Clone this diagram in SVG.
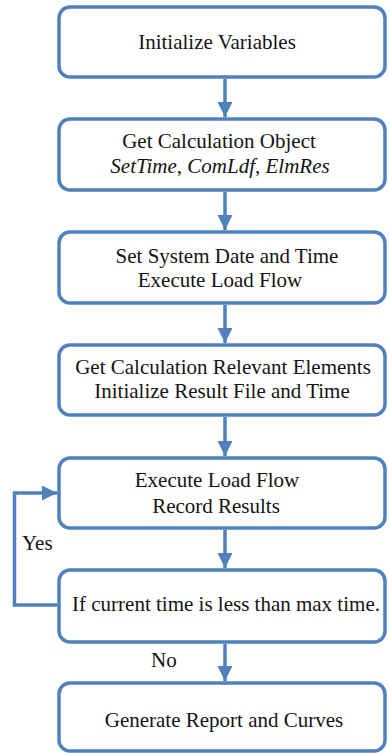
<svg xmlns="http://www.w3.org/2000/svg" width="389" height="754" viewBox="0 0 389 754">
<style>
.box{fill:#fff;stroke:#4f81bd;stroke-width:3.5}
.t{fill:#141414;text-anchor:middle}
.l{fill:#141414}
.c{fill:none;stroke:#4f81bd;stroke-width:3.5}
</style>
<defs>
<marker id="ah" markerUnits="userSpaceOnUse" markerWidth="16" markerHeight="16" refX="15" refY="7.5" orient="auto">
<path d="M0,0 L15,7.5 L0,15 z" fill="#4f81bd"/>
</marker>
</defs>
<g font-family="Liberation Serif" font-size="21">
<g id="connectors">
<line class="c" x1="225" y1="79" x2="225" y2="117" marker-end="url(#ah)"/>
<line class="c" x1="225" y1="192" x2="225" y2="230" marker-end="url(#ah)"/>
<line class="c" x1="225" y1="305" x2="225" y2="343" marker-end="url(#ah)"/>
<line class="c" x1="225" y1="417" x2="225" y2="456" marker-end="url(#ah)"/>
<line class="c" x1="225" y1="530" x2="225" y2="568" marker-end="url(#ah)"/>
<line class="c" x1="225" y1="644" x2="225" y2="681" marker-end="url(#ah)"/>
<polyline class="c" points="57,605 14.5,605 14.5,493 57,493" marker-end="url(#ah)"/>
<text class="l" x="22" y="550">Yes</text>
<text class="l" x="151" y="667">No</text>
</g>
<g id="n1">
<rect class="box" x="59" y="7" width="326" height="70" rx="11"/>
<text class="t" x="217" y="49">Initialize Variables</text>
</g>
<g id="n2">
<rect class="box" x="59" y="119" width="326" height="71" rx="11"/>
<text class="t" x="219" y="148">Get Calculation Object</text>
<text class="t" x="220" y="173" font-style="italic">SetTime<tspan font-style="normal">, </tspan>ComLdf<tspan font-style="normal">, </tspan>ElmRes</text>
</g>
<g id="n3">
<rect class="box" x="59" y="232" width="326" height="71" rx="11"/>
<text class="t" x="227" y="263">Set System Date and Time</text>
<text class="t" x="220" y="287">Execute Load Flow</text>
</g>
<g id="n4">
<rect class="box" x="59" y="345" width="326" height="70" rx="11"/>
<text class="t" x="223" y="374">Get Calculation Relevant Elements</text>
<text class="t" x="222" y="398">Initialize Result File and Time</text>
</g>
<g id="n5">
<rect class="box" x="59" y="458" width="326" height="70" rx="11"/>
<text class="t" x="217" y="487">Execute Load Flow</text>
<text class="t" x="216" y="513">Record Results</text>
</g>
<g id="n6">
<rect class="box" x="59" y="570" width="326" height="72" rx="11"/>
<text class="t" x="226" y="611">If current time is less than max time.</text>
</g>
<g id="n7">
<rect class="box" x="59" y="683" width="326" height="68" rx="11"/>
<text class="t" x="224" y="727">Generate Report and Curves</text>
</g>
</g>
</svg>
